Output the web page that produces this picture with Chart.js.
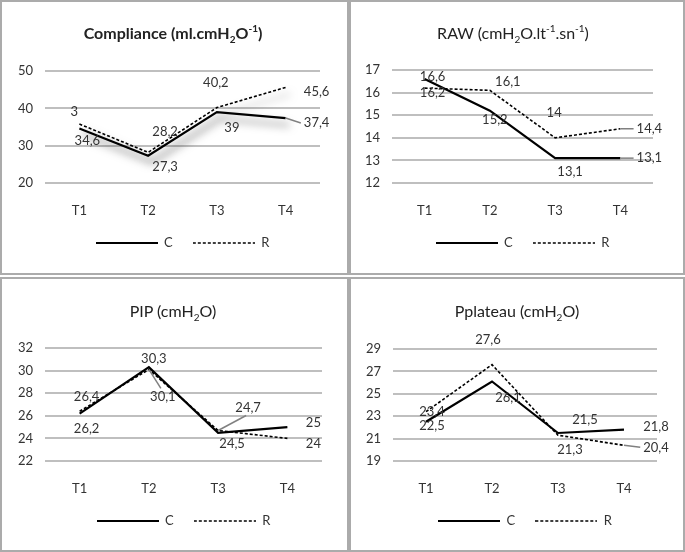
<!DOCTYPE html>
<html>
<head>
<meta charset="utf-8">
<script src="https://cdn.jsdelivr.net/npm/chart.js@4.4.1/dist/chart.umd.min.js"></script>
<style>
html, body { margin: 0; padding: 0; background: #fff; }
body { width: 685px; height: 552px; position: relative; overflow: hidden; font-family: Lato, "Open Sans", sans-serif; }
.panel { position: absolute; box-sizing: border-box; border: 2px solid #ababab; }
canvas { position: absolute; }
.ttl { position: absolute; white-space: nowrap; font-size: 16px; color: #222; transform: translate(-50%, -50%); }
.ttl.bold { font-weight: bold; }
sub, sup { font-size: 10px; line-height: 0; }
</style>
</head>
<body>
<div class="panel" style="left:0;top:0;width:349px;height:275px"></div>
<div class="panel" style="left:349px;top:0;width:336px;height:275px"></div>
<div class="panel" style="left:0;top:277px;width:349px;height:275px"></div>
<div class="panel" style="left:349px;top:277px;width:336px;height:275px"></div>

<canvas id="c1" width="349" height="275" style="left:0;top:0"></canvas>
<canvas id="c2" width="336" height="275" style="left:349px;top:0"></canvas>
<canvas id="c3" width="349" height="275" style="left:0;top:277px"></canvas>
<canvas id="c4" width="336" height="275" style="left:349px;top:277px"></canvas>

<div class="ttl bold" style="left:173px;top:32px">Compliance (ml.cmH<sub>2</sub>O<sup>-1</sup>)</div>
<div class="ttl" style="left:513px;top:32px">RAW (cmH<sub>2</sub>O.lt<sup>-1</sup>.sn<sup>-1</sup>)</div>
<div class="ttl" style="left:173px;top:310px">PIP (cmH<sub>2</sub>O)</div>
<div class="ttl" style="left:517px;top:310px">Pplateau (cmH<sub>2</sub>O)</div>

<script>
const times = ['T1', 'T2', 'T3', 'T4'];

// Compliance
const complianceC = [34.6, 27.3, 39, 37.4];
const complianceR = [35.8, 28.2, 40.2, 45.6];
const complianceRText = ['3', null, null, null];
// RAW
const rawC = [16.6, 15.2, 13.1, 13.1];
const rawR = [16.2, 16.1, 14, 14.4];
// PIP
const pipC = [26.2, 30.3, 24.5, 25];
const pipR = [26.4, 30.1, 24.7, 24];
// Pplateau
const plateauC = [22.5, 26.1, 21.5, 21.8];
const plateauR = [23.4, 27.6, 21.3, 20.4];

const FONT = 'Lato, "Open Sans", sans-serif';
const TEXT = '#333';

// where Excel put the value labels, relative to the point
const offs = {
    c1: [[8, 12], [17, 11], [15, 16], [31, 5]],
    r1: [[-5, -12], [17, -21], [-1, -25], [31, 4]],
    c2: [[8, -2], [5, 9], [15, 14], [29, 0]],
    r2: [[8, 5], [18, -9], [-1, -25], [29, 0]],
    c3: [[7, 15], [5, -8], [14, 11], [26, -4]],
    r3: [[7, -14], [14, 27], [30, -23], [26, 5]],
    c4: [[6, 4], [16, 16], [27, -13], [32, -3]],
    r4: [[6, 0], [-4, -25], [12, 15], [32, 2]]
};

// little line swatches for the legend (Chart.js closes the 'line' style path, which hides the dash)
function swatch(width, dash) {
    const cv = document.createElement('canvas');
    cv.width = 62;
    cv.height = 4;
    const g = cv.getContext('2d');
    g.strokeStyle = '#000';
    g.lineWidth = width;
    g.setLineDash(dash);
    g.beginPath();
    g.moveTo(0, 2);
    g.lineTo(62, 2);
    g.stroke();
    return cv;
}
const solidSwatch = swatch(2.2, []);
const dashSwatch = swatch(1.6, [3, 2]);

const pointLabels = {
    id: 'pointLabels',
    afterDatasetsDraw(chart) {
        const ctx = chart.ctx;
        ctx.save();
        ctx.font = '13px ' + FONT;
        ctx.textAlign = 'center';
        ctx.textBaseline = 'middle';
        chart.data.datasets.forEach((ds, di) => {
            const meta = chart.getDatasetMeta(di);
            meta.data.forEach((pt, i) => {
                let txt = String(ds.data[i]).replace('.', ',');
                if (ds.labelText && ds.labelText[i] != null) txt = ds.labelText[i];
                const [dx, dy] = ds.labelOffsets[i];
                const lx = pt.x + dx, ly = pt.y + dy;
                if (ds.leaders && ds.leaders.includes(i)) {
                    const w = ctx.measureText(txt).width;
                    let ex, ey;
                    if (Math.abs(dy) > 12) {
                        ex = lx - Math.sign(dx) * 2;
                        ey = ly - Math.sign(dy) * 8;
                    } else {
                        ex = lx - Math.sign(dx) * (w / 2 + 3);
                        ey = ly;
                    }
                    ctx.strokeStyle = '#808080';
                    ctx.lineWidth = 1.5;
                    ctx.beginPath();
                    ctx.moveTo(pt.x, pt.y);
                    ctx.lineTo(ex, ey);
                    ctx.stroke();
                }
                ctx.fillStyle = TEXT;
                ctx.fillText(txt, lx, ly);
            });
        });
        ctx.restore();
    }
};

const lineShadow = {
    id: 'lineShadow',
    beforeDatasetsDraw(chart, args, opts) {
        if (!opts.on) return;
        const ctx = chart.ctx;
        ctx.save();
        ctx.shadowColor = 'rgba(0, 0, 0, 0.55)';
        ctx.shadowBlur = 9;
        ctx.shadowOffsetX = 4;
        ctx.shadowOffsetY = 7;
    },
    afterDatasetsDraw(chart, args, opts) {
        if (opts.on) chart.ctx.restore();
    }
};

function panel(id, c, r, box, y) {
    new Chart(document.getElementById(id), {
        type: 'line',
        data: {
            labels: times,
            datasets: [{
                label: 'C',
                data: c.data,
                labelOffsets: c.offs,
                leaders: c.leaders,
                borderColor: '#000',
                borderWidth: 2.2,
                pointRadius: 0,
                pointStyle: solidSwatch,
                tension: 0
            }, {
                label: 'R',
                data: r.data,
                labelText: r.text,
                labelOffsets: r.offs,
                leaders: r.leaders,
                borderColor: '#000',
                borderWidth: 1.6,
                borderDash: [3, 2],
                pointRadius: 0,
                pointStyle: dashSwatch,
                tension: 0
            }]
        },
        plugins: [lineShadow, pointLabels],
        options: {
            responsive: false,
            animation: false,
            layout: {
                padding: { left: 0, top: box.top, right: box.right, bottom: box.bottom }
            },
            plugins: {
                lineShadow: { on: !!box.shadow },
                tooltip: { enabled: false },
                title: { display: false },
                legend: {
                    position: 'bottom',
                    fullSize: false,
                    labels: {
                        usePointStyle: true,
                        pointStyleWidth: 62,
                        padding: 20,
                        color: TEXT,
                        font: { family: FONT, size: 13 }
                    }
                }
            },
            scales: {
                x: {
                    offset: true,
                    grid: { display: false },
                    border: { display: false },
                    ticks: { color: TEXT, padding: 12, font: { family: FONT, size: 13 } },
                    afterFit(scale) { scale.height = 33.5; }
                },
                y: {
                    min: y.min,
                    max: y.max,
                    grid: { color: '#bfbfbf', lineWidth: 2, drawTicks: false },
                    border: { display: false },
                    ticks: { stepSize: y.step, color: TEXT, padding: 12, font: { family: FONT, size: 13 } },
                    afterFit(scale) { scale.width = box.left; }
                }
            }
        }
    });
}

panel('c1',
    { data: complianceC, offs: offs.c1, leaders: [3] },
    { data: complianceR, text: complianceRText, offs: offs.r1, leaders: [] },
    { left: 45, top: 71, right: 29, bottom: 15.5, shadow: true },
    { min: 20, max: 50, step: 10 });

panel('c2',
    { data: rawC, offs: offs.c2, leaders: [3] },
    { data: rawR, offs: offs.r2, leaders: [3] },
    { left: 43, top: 70, right: 32, bottom: 15.5 },
    { min: 12, max: 17, step: 1 });

panel('c3',
    { data: pipC, offs: offs.c3, leaders: [] },
    { data: pipR, offs: offs.r3, leaders: [1, 2] },
    { left: 45, top: 71, right: 27, bottom: 14.5 },
    { min: 22, max: 32, step: 2 });

panel('c4',
    { data: plateauC, offs: offs.c4, leaders: [] },
    { data: plateauR, offs: offs.r4, leaders: [3] },
    { left: 44, top: 72, right: 28, bottom: 14.5 },
    { min: 19, max: 29, step: 2 });
</script>
</body>
</html>
